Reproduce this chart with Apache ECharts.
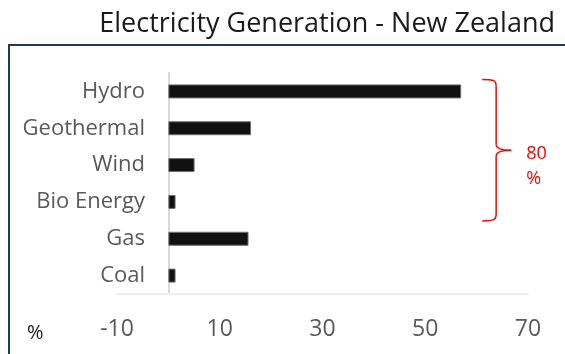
<!DOCTYPE html>
<html>
<head>
<meta charset="utf-8">
<script src="https://cdn.jsdelivr.net/npm/echarts@6/dist/echarts.min.js"></script>
<style>
  html, body { margin: 0; padding: 0; background: #ffffff; }
  #chart { width: 565px; height: 354px; }
</style>
</head>
<body>
<div id="chart"></div>
<script>
// Electricity generation share by source, percent
const categories = ['Hydro', 'Geothermal', 'Wind', 'Bio Energy', 'Gas', 'Coal'];
const shares = [57.0, 16.1, 5.1, 1.4, 15.6, 1.4];
const tickLabels = [-10, 10, 30, 50, 70];
const renewableTotal = '80\n%';

const FONT = 'Open Sans';
const chart = echarts.init(document.getElementById('chart'), null, { renderer: 'canvas' });

chart.setOption({
  animation: false,
  backgroundColor: '#ffffff',
  textStyle: { fontFamily: FONT },
  title: {
    text: 'Electricity Generation - New Zealand',
    right: 5,
    top: 6,
    textStyle: { fontFamily: FONT, fontSize: 27, fontWeight: 'normal', color: '#1a1a1a' }
  },
  grid: { left: 117, right: 37, top: 73, bottom: 60, outerBoundsMode: 'none', containLabel: false },
  xAxis: {
    type: 'value',
    min: -10,
    max: 70,
    interval: 10,
    splitLine: { show: false },
    axisTick: { show: false },
    axisLine: { show: true, lineStyle: { color: '#efefef', width: 2 } },
    axisLabel: {
      margin: 24,
      fontFamily: FONT,
      fontSize: 23,
      color: '#595959',
      formatter: v => (tickLabels.indexOf(v) >= 0 ? String(v) : '')
    }
  },
  yAxis: {
    type: 'category',
    inverse: true,
    data: categories,
    axisTick: { show: false },
    axisLine: { show: true, onZero: true, lineStyle: { color: '#d9d9d9', width: 2 } },
    // labels sit just left of the zero line, inside the grid
    axisLabel: { margin: -28, fontFamily: FONT, fontSize: 22, color: '#595959' }
  },
  series: [{
    type: 'bar',
    data: shares,
    barWidth: 14,
    itemStyle: { color: '#111111', borderColor: '#6f6f6f', borderWidth: 1 }
  }]
});

// Bracket grouping the renewable sources (Hydro through Bio Energy)
const x = chart.convertToPixel({ xAxisIndex: 0 }, 63.8);
const yTop = chart.convertToPixel({ yAxisIndex: 0 }, categories[0]) - 12;
const yBot = chart.convertToPixel({ yAxisIndex: 0 }, categories[3]) + 19;
const yMid = (yTop + yBot) / 2;
const braceStyle = { stroke: '#ff0000', lineWidth: 1.5, fill: null };
const braceParts = [
  { type: 'bezierCurve', shape: { x1: x - 14, y1: yTop, x2: x, y2: yTop + 7, cpx1: x - 2, cpy1: yTop, cpx2: x, cpy2: yTop + 1 }, style: braceStyle },
  { type: 'line', shape: { x1: x, y1: yTop + 7, x2: x, y2: yMid - 6 }, style: braceStyle },
  { type: 'bezierCurve', shape: { x1: x, y1: yMid - 6, x2: x + 15, y2: yMid, cpx1: x, cpy1: yMid }, style: braceStyle },
  { type: 'bezierCurve', shape: { x1: x + 15, y1: yMid, x2: x, y2: yMid + 6, cpx1: x, cpy1: yMid }, style: braceStyle },
  { type: 'line', shape: { x1: x, y1: yMid + 6, x2: x, y2: yBot - 7 }, style: braceStyle },
  { type: 'bezierCurve', shape: { x1: x, y1: yBot - 7, x2: x - 14, y2: yBot, cpx1: x, cpy1: yBot - 1, cpx2: x - 2, cpy2: yBot }, style: braceStyle }
];

chart.setOption({
  graphic: [
    // panel frame
    { type: 'line', shape: { x1: 9, y1: 45, x2: 565, y2: 45 }, style: { stroke: '#1f3864', lineWidth: 2 } },
    { type: 'line', shape: { x1: 9, y1: 44, x2: 9, y2: 354 }, style: { stroke: '#1f3864', lineWidth: 2 } },
    ...braceParts,
    // bracket label
    {
      type: 'text', x: x + 30, y: yMid - 9,
      style: { text: renewableTotal, fill: '#ff0000', font: '18px "' + FONT + '"', lineHeight: 25, textAlign: 'left', textVerticalAlign: 'top' }
    },
    // unit label
    {
      type: 'text', x: 27, y: 323,
      style: { text: '%', fill: '#1a1a1a', font: '20px "' + FONT + '"', textAlign: 'left', textVerticalAlign: 'top' }
    }
  ]
});
</script>
</body>
</html>
